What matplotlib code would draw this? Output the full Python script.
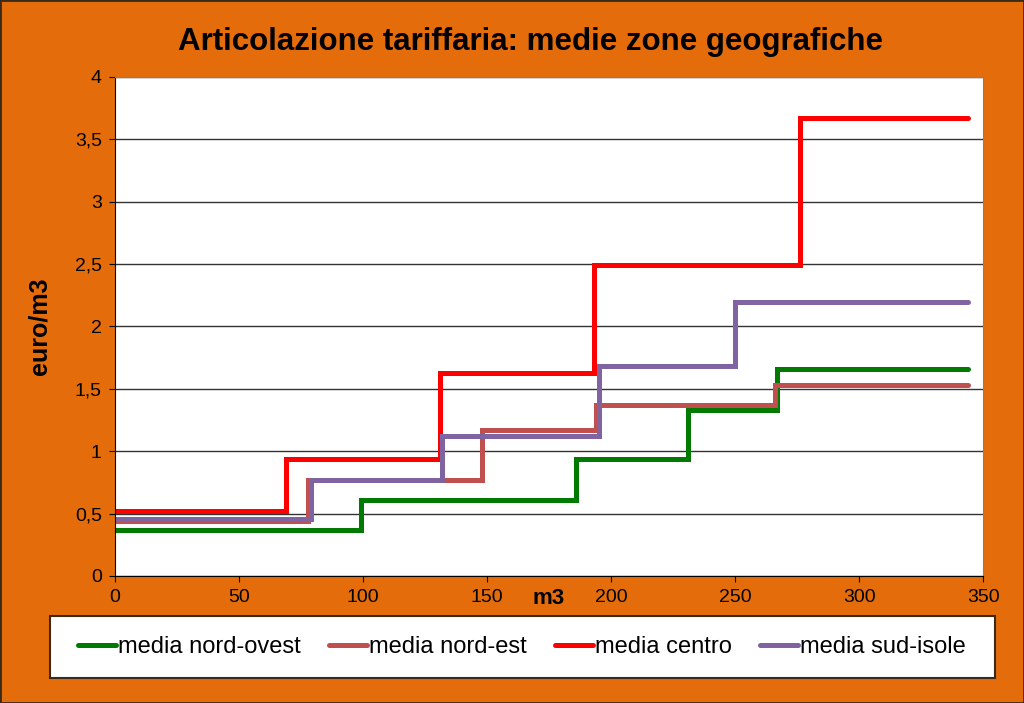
import matplotlib.pyplot as plt
from matplotlib.patches import Rectangle
from matplotlib.ticker import FuncFormatter

# consumi (m3) ai quali cambia lo scaglione, e tariffe (euro/m3) per scaglione
x_nord_ovest = [0, 99, 186, 231, 267, 344]
y_nord_ovest = [0.37, 0.61, 0.94, 1.33, 1.66, 1.66]

x_nord_est = [0, 78, 148, 194, 266, 344]
y_nord_est = [0.44, 0.77, 1.17, 1.37, 1.53, 1.53]

x_centro = [0, 69, 131, 193, 276, 344]
y_centro = [0.52, 0.94, 1.63, 2.49, 3.67, 3.67]

x_sud_isole = [0, 79, 132, 195, 250, 344]
y_sud_isole = [0.46, 0.77, 1.12, 1.68, 2.20, 2.20]

serie = [
    ("media nord-ovest", x_nord_ovest, y_nord_ovest, "#007A00"),
    ("media nord-est", x_nord_est, y_nord_est, "#C0504D"),
    ("media centro", x_centro, y_centro, "#FF0000"),
    ("media sud-isole", x_sud_isole, y_sud_isole, "#8064A2"),
]

plt.rcParams['font.family'] = ['Liberation Sans', 'DejaVu Sans']

arancio = "#E46C0A"
W, H = 1024, 703
fig = plt.figure(figsize=(10.24, 7.03), dpi=100, facecolor=arancio)
fig.patches.append(Rectangle((0, 0), 1, 1, transform=fig.transFigure,
                             fill=False, edgecolor="#3a2a1a", linewidth=2))
# riquadro della legenda
fig.patches.append(Rectangle((50 / W, 1 - 678 / H), 945 / W, 62 / H,
                             transform=fig.transFigure, facecolor="white",
                             edgecolor="#3a2a1a", linewidth=1.5))

ax = fig.add_axes([0.1123, 0.1807, 0.8477, 0.7098])
ax.set_facecolor("white")

for nome, xs, ys, col in serie:
    ax.plot(xs, ys, drawstyle="steps-post", color=col, linewidth=3.6,
            label=nome, solid_capstyle="round", solid_joinstyle="miter")

ax.set_xlim(0, 350)
ax.set_ylim(0, 4)
ax.set_xticks(range(0, 351, 50))
ax.set_yticks([i * 0.5 for i in range(9)])
ax.yaxis.set_major_formatter(FuncFormatter(lambda v, p: f"{v:g}".replace(".", ",")))
ax.tick_params(labelsize=14, direction="out", length=4.5, pad=5, color="black")
ax.grid(axis="y", color="#333333", linewidth=1)
ax.set_axisbelow(True)
for s in ("top", "right"):
    ax.spines[s].set_color("#808080")
for s in ("left", "bottom"):
    ax.spines[s].set_color("black")

fig.text(0.518, 1 - 42 / H, "Articolazione tariffaria: medie zone geografiche",
         fontsize=22.5, fontweight="bold", ha="center", va="center")
fig.text(40 / W, 1 - 326 / H, "euro/m3", fontsize=18, fontweight="bold",
         rotation=90, ha="center", va="center")
ax.text(0.5, -0.046, "m3", transform=ax.transAxes, fontsize=16,
        fontweight="bold", ha="center", va="center")

fig.legend(loc="center", bbox_to_anchor=(78 / W, 1 - 678 / H, 888 / W, 62 / H),
           mode="expand", ncol=4, fontsize=17, frameon=False,
           handlelength=1.6, handletextpad=0.1, borderpad=0,
           borderaxespad=0, columnspacing=1.2)

fig.savefig("out.png", dpi=100, facecolor=arancio)
